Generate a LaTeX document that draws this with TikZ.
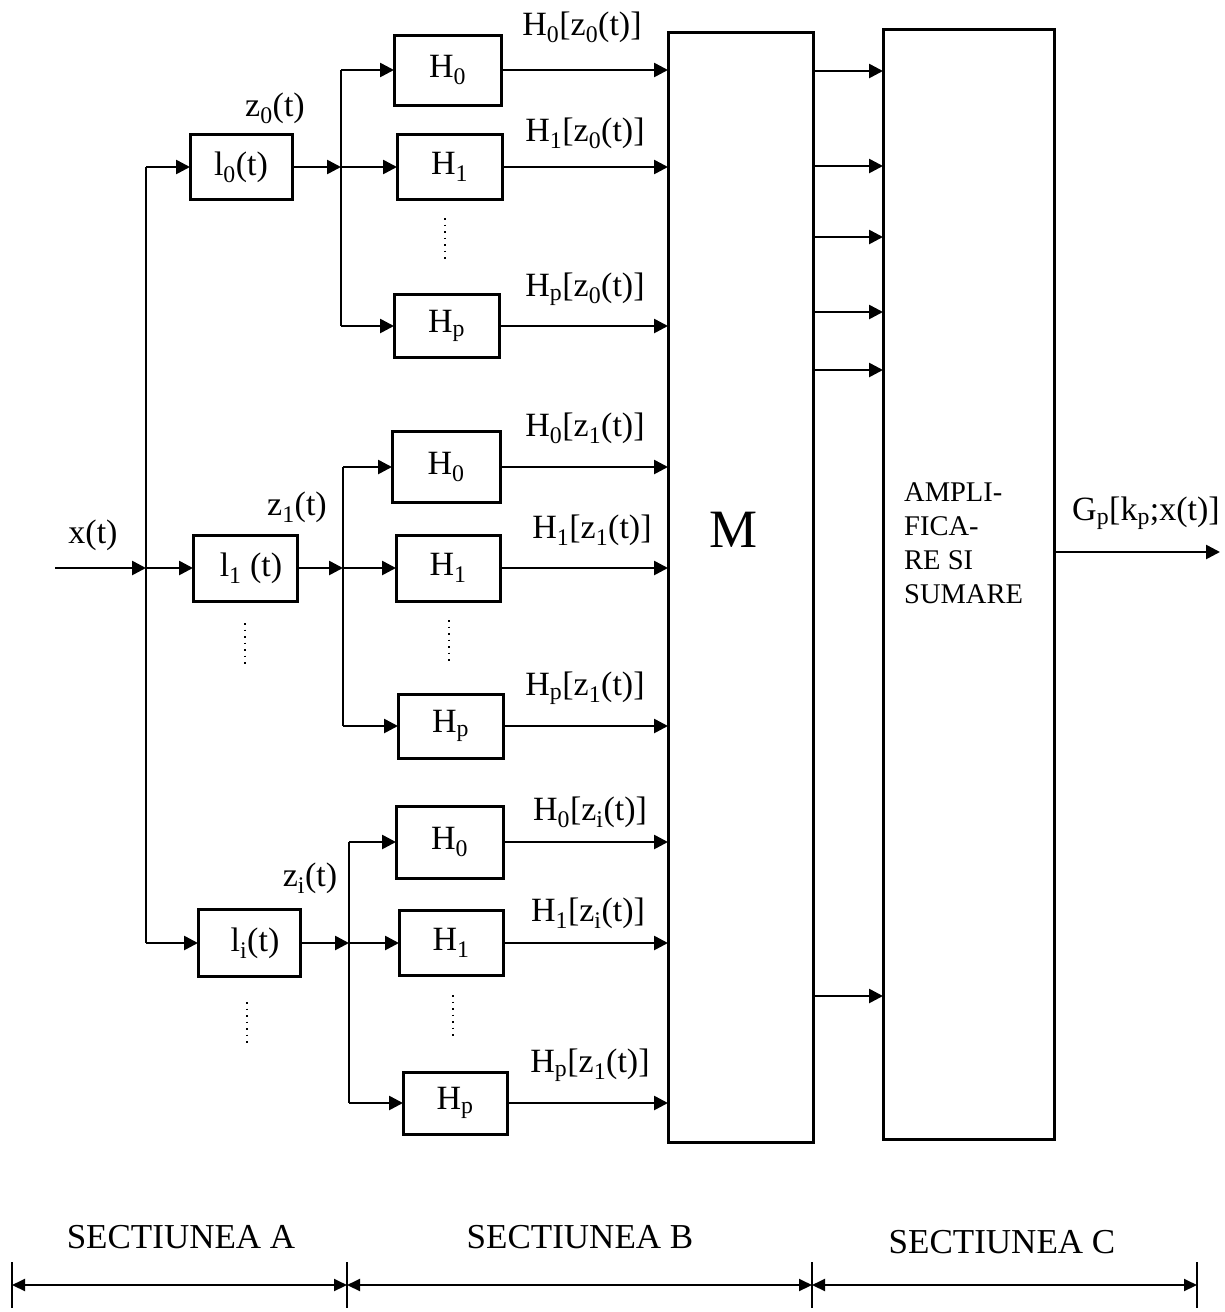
\documentclass[tikz,border=0pt]{standalone}
\usepackage{fontspec}
\setmainfont{Liberation Serif}
\usetikzlibrary{arrows.meta}
\begin{document}
\begin{tikzpicture}[x=1pt,y=-1pt,
  blk/.style={draw,line width=3pt,inner sep=0pt,outer sep=0pt,font=\fontsize{34}{36}\selectfont},
  lbl/.style={inner sep=0pt,font=\fontsize{34}{36}\selectfont},
  sec/.style={inner sep=0pt,font=\fontsize{35}{38}\selectfont},
  wire/.style={line width=2.6pt},
  arr/.style={wire,-{Triangle[length=14pt,width=14pt]}},
  dimarr/.style={line width=2pt,{Triangle[length=13pt,width=12pt]}-{Triangle[length=13pt,width=12pt]}},
  tick/.style={line width=2.4pt},
  vdots/.style={line width=1.4pt,dash pattern=on 1.5pt off 5pt},
]
\useasboundingbox (0,0) rectangle (1224,1312);

% ---------- section A ----------
\coordinate (xin) at (55,568);
\coordinate (bt) at (146,167);
\coordinate (bx) at (146,568);
\coordinate (bb) at (146,943);
\node[blk,minimum width=102,minimum height=65] (l0) at (241,167) {l\textsubscript{0}(t)};
\node[blk,minimum width=104,minimum height=66] (l1) at (245,568) {\hspace*{12pt}l\textsubscript{1} (t)};
\node[blk,minimum width=102,minimum height=67] (li) at (249,943) {\hspace*{12pt}l\textsubscript{i}(t)};
\node[lbl] (xlab) at (93,535) {x(t)};
\draw[wire] (bt) -- (bb);
\draw[arr] (xin) -- (bx);
\draw[arr] (bt) -- (l0.west);
\draw[arr] (bx) -- (l1.west);
\draw[arr] (bb) -- (li.west);
\coordinate (d1a) at (245,623); \coordinate (d1b) at (245,668);
\coordinate (dia) at (247,1002); \coordinate (dib) at (247,1045);
\draw[vdots] (d1a) -- (d1b);
\draw[vdots] (dia) -- (dib);

% ---------- group 0 ----------
\coordinate (b0) at (341,167);
\coordinate (b0t) at (341,70);
\coordinate (b0b) at (341,326);
\node[lbl] (z0lab) at (275,108) {z\textsubscript{0}(t)};
\node[blk,minimum width=107,minimum height=70] (h00) at (447.5,70) {H\textsubscript{0}};
\node[blk,minimum width=105,minimum height=65] (h01) at (449.5,167) {H\textsubscript{1}};
\node[blk,minimum width=105,minimum height=63] (h0p) at (446.5,326) {H\textsubscript{p}};
\draw[arr] (l0.east) -- (b0);
\draw[wire] (b0t) -- (b0b);
\draw[arr] (b0t) -- (h00.west);
\draw[arr] (b0) -- (h01.west);
\draw[arr] (b0b) -- (h0p.west);
\coordinate (d0a) at (445,218); \coordinate (d0b) at (445,263);
\draw[vdots] (d0a) -- (d0b);
\node[lbl] (o00) at (582,27) {H\textsubscript{0}[z\textsubscript{0}(t)]};
\node[lbl] (o01) at (585,133) {H\textsubscript{1}[z\textsubscript{0}(t)]};
\node[lbl] (o0p) at (585,289) {H\textsubscript{p}[z\textsubscript{0}(t)]};

% ---------- group 1 ----------
\coordinate (b1) at (343,568);
\coordinate (b1t) at (343,467);
\coordinate (b1b) at (343,726);
\node[lbl] (z1lab) at (297,507) {z\textsubscript{1}(t)};
\node[blk,minimum width=108,minimum height=71] (h10) at (446,467) {H\textsubscript{0}};
\node[blk,minimum width=104,minimum height=66] (h11) at (448,568) {H\textsubscript{1}};
\node[blk,minimum width=105,minimum height=64] (h1p) at (450.5,726) {H\textsubscript{p}};
\draw[arr] (l1.east) -- (b1);
\draw[wire] (b1t) -- (b1b);
\draw[arr] (b1t) -- (h10.west);
\draw[arr] (b1) -- (h11.west);
\draw[arr] (b1b) -- (h1p.west);
\coordinate (d1c) at (449,620); \coordinate (d1d) at (449,663);
\draw[vdots] (d1c) -- (d1d);
\node[lbl] (o10) at (585,428) {H\textsubscript{0}[z\textsubscript{1}(t)]};
\node[lbl] (o11) at (592,530) {H\textsubscript{1}[z\textsubscript{1}(t)]};
\node[lbl] (o1p) at (585,688) {H\textsubscript{p}[z\textsubscript{1}(t)]};

% ---------- group i ----------
\coordinate (bi) at (349,943);
\coordinate (bit) at (349,842);
\coordinate (bib) at (349,1103);
\node[lbl] (zilab) at (310,878) {z\textsubscript{i}(t)};
\node[blk,minimum width=107,minimum height=72] (hi0) at (449.5,842) {H\textsubscript{0}};
\node[blk,minimum width=104,minimum height=65] (hi1) at (451,943) {H\textsubscript{1}};
\node[blk,minimum width=104,minimum height=62] (hip) at (455,1103) {H\textsubscript{p}};
\draw[arr] (li.east) -- (bi);
\draw[wire] (bit) -- (bib);
\draw[arr] (bit) -- (hi0.west);
\draw[arr] (bi) -- (hi1.west);
\draw[arr] (bib) -- (hip.west);
\coordinate (dic) at (453,995); \coordinate (did) at (453,1038);
\draw[vdots] (dic) -- (did);
\node[lbl] (oi0) at (590,812) {H\textsubscript{0}[z\textsubscript{i}(t)]};
\node[lbl] (oi1) at (588,913) {H\textsubscript{1}[z\textsubscript{i}(t)]};
\node[lbl] (oip) at (590,1065) {H\textsubscript{p}[z\textsubscript{1}(t)]};

% ---------- M and C ----------
\node[blk,minimum width=145,minimum height=1110] (M) at (740.5,587) {};
\node[inner sep=0pt,font=\fontsize{54}{56}\selectfont] (Mlab) at (733,530) {M};
\node[blk,minimum width=171,minimum height=1110] (C) at (968.5,584) {};
\node[inner sep=0pt,anchor=west,align=left,font=\fontsize{28.5}{34}\selectfont] (Clab) at (904,543) {AMPLI-\\FICA-\\RE SI\\SUMARE};

\foreach \n in {h00,h01,h0p,h10,h11,h1p,hi0,hi1,hip}
  \draw[arr] (\n.east) -- (\n.east -| M.west);

\foreach \yy in {71,166,237,312,370,996}
  \draw[arr] (M.east |- 0,\yy) -- (C.west |- 0,\yy);

\coordinate (gout) at (1220,552);
\draw[arr] (C.east |- gout) -- (gout);
\node[lbl] (glab) at (1146,513) {G\textsubscript{p}[k\textsubscript{p};x(t)]};

% ---------- sections ----------
\coordinate (t1) at (12,1285);
\coordinate (t2) at (347,1285);
\coordinate (t3) at (812,1285);
\coordinate (t4) at (1197,1285);
\foreach \t in {t1,t2,t3,t4}
  \draw[tick] (\t) ++(0,-23) -- ++(0,46);
\draw[dimarr] (t1) -- (t2);
\draw[dimarr] (t2) -- (t3);
\draw[dimarr] (t3) -- (t4);
\node[sec] (sa) at (181,1237) {SECTIUNEA A};
\node[sec] (sb) at (580,1237) {SECTIUNEA B};
\node[sec] (sc) at (1002,1242) {SECTIUNEA C};
\end{tikzpicture}
\end{document}
